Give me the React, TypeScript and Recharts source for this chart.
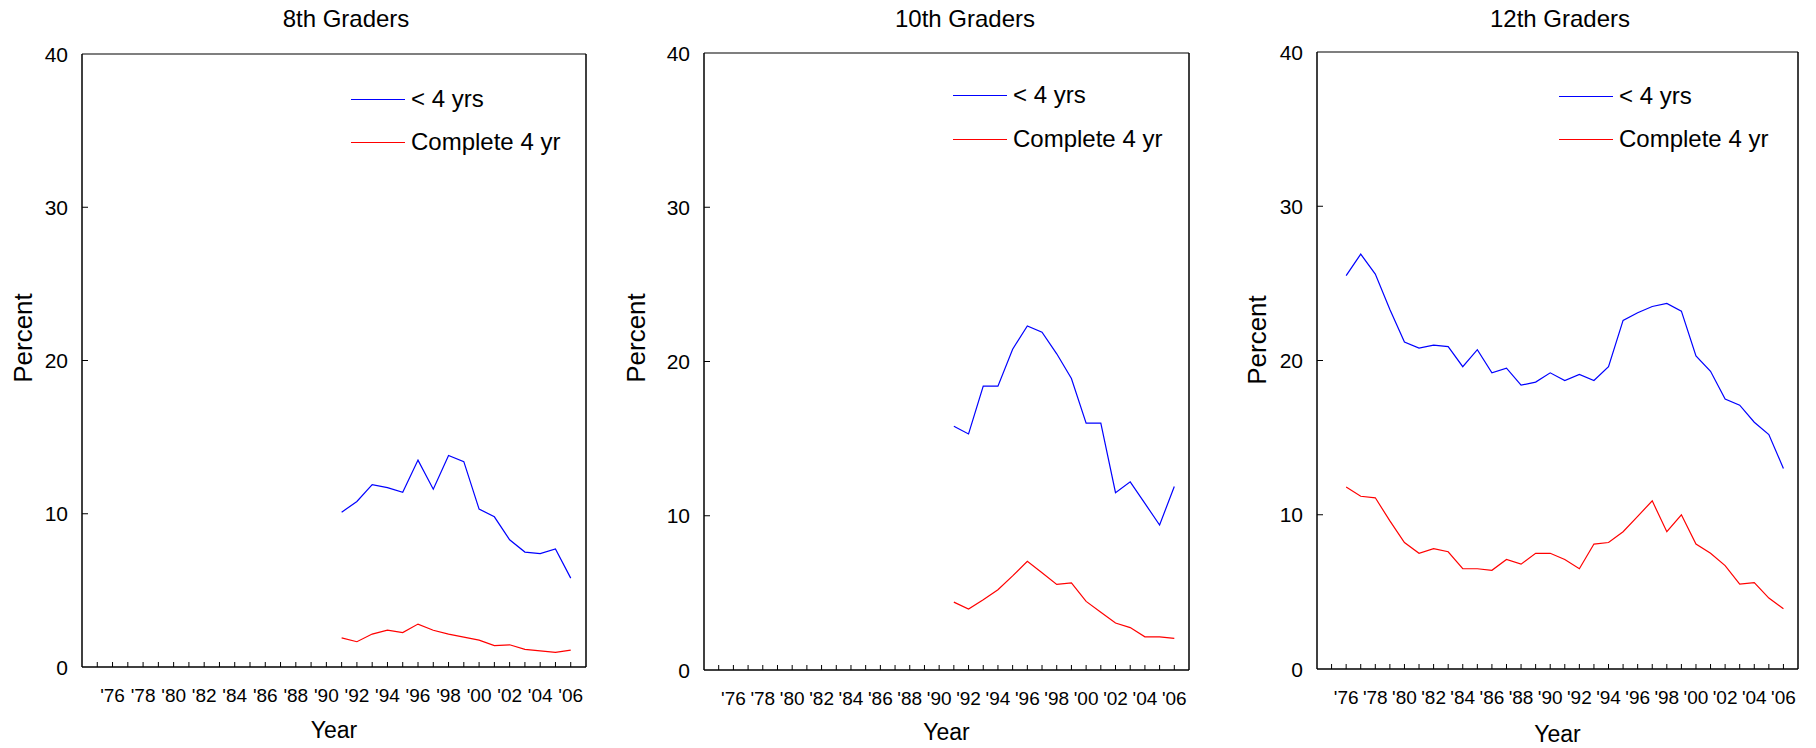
import React from "react"
import { LineChart, Line, XAxis, YAxis, ReferenceLine } from "recharts"

// survey years per grade
const years8 = [1991, 1992, 1993, 1994, 1995, 1996, 1997, 1998, 1999, 2000, 2001, 2002, 2003, 2004, 2005, 2006]
const years10 = [1991, 1992, 1993, 1994, 1995, 1996, 1997, 1998, 1999, 2000, 2001, 2002, 2003, 2004, 2005, 2006]
const years12 = [1976, 1977, 1978, 1979, 1980, 1981, 1982, 1983, 1984, 1985, 1986, 1987, 1988, 1989, 1990,
    1991, 1992, 1993, 1994, 1995, 1996, 1997, 1998, 1999, 2000, 2001, 2002, 2003, 2004, 2005, 2006]

// "< 4 yrs"
const under8 = [10.1, 10.8, 11.9, 11.7, 11.4, 13.5, 11.6, 13.8, 13.4, 10.3, 9.8, 8.3, 7.5, 7.4, 7.7, 5.8]
const under10 = [15.8, 15.3, 18.4, 18.4, 20.8, 22.3, 21.9, 20.5, 18.9, 16.0, 16.0, 11.5, 12.2, 10.8, 9.4, 11.9]
const under12 = [25.5, 26.9, 25.6, 23.3, 21.2, 20.8, 21.0, 20.9, 19.6, 20.7, 19.2, 19.5, 18.4, 18.6, 19.2,
    18.7, 19.1, 18.7, 19.6, 22.6, 23.1, 23.5, 23.7, 23.2, 20.3, 19.3, 17.5, 17.1, 16.0, 15.2, 13.0]

// "Complete 4 yr"
const full8 = [1.9, 1.65, 2.15, 2.4, 2.25, 2.8, 2.4, 2.15, 1.95, 1.75, 1.4, 1.45, 1.15, 1.05, 0.95, 1.1]
const full10 = [4.4, 3.95, 4.55, 5.2, 6.1, 7.05, 6.3, 5.55, 5.65, 4.45, 3.75, 3.05, 2.75, 2.15, 2.15, 2.05]
const full12 = [11.8, 11.2, 11.1, 9.6, 8.2, 7.5, 7.8, 7.6, 6.5, 6.5, 6.4, 7.1, 6.8, 7.5, 7.5,
    7.1, 6.5, 8.1, 8.2, 8.9, 9.9, 10.9, 8.9, 10.0, 8.1, 7.5, 6.7, 5.5, 5.6, 4.6, 3.9]

const xTicks = [1975, 1976, 1977, 1978, 1979, 1980, 1981, 1982, 1983, 1984, 1985, 1986, 1987, 1988, 1989, 1990,
    1991, 1992, 1993, 1994, 1995, 1996, 1997, 1998, 1999, 2000, 2001, 2002, 2003, 2004, 2005, 2006]
const yTicks = [0, 10, 20, 30, 40]
const seriesNames = ["< 4 yrs", "Complete 4 yr"]
const titles = ["8th Graders", "10th Graders", "12th Graders"]

const FONT = "'Liberation Sans', Arial, sans-serif"
const BLUE = "#0000ff"
const RED = "#ff0000"

const rows = (yrs: number[], a: number[], b: number[]) => yrs.map((year, i) => ({ year, under: a[i], full: b[i] }))

const yearLabel = (y: number) => (y % 2 === 0 ? "'" + String(y % 100).padStart(2, "0") : "")

const XTick = (p: any) => {
    const { x, y, payload } = p
    const lab = yearLabel(payload.value)
    return (
        <g>
            <line x1={x} x2={x} y1={y} y2={y - 5} stroke="#000" strokeWidth={1} />
            {lab && <text x={x} y={y + 28} textAnchor="middle" dominantBaseline="central"
                fontFamily={FONT} fontSize={19} fill="#000">{lab}</text>}
        </g>
    )
}

const YTick = (p: any) => {
    const { x, y, payload } = p
    return (
        <g>
            {payload.value > 0 && payload.value < 40 &&
                <line x1={x} x2={x + 6} y1={y} y2={y} stroke="#000" strokeWidth={1} />}
            <text x={x - 14} y={y} textAnchor="end" dominantBaseline="central"
                fontFamily={FONT} fontSize={21} fill="#000">{payload.value}</text>
        </g>
    )
}

type Box = { l: number; r: number; t: number; b: number }
type PanelProps = {
    title: string; data: any[]; box: Box; titleX: number
    leg: { x: number; y1: number; y2: number }
    pct: { x: number; y: number }; yearY: number
}

const YW = 80
const XH = 40

function Panel({ title, data, box, titleX, leg, pct, yearY }: PanelProps) {
    const chartLeft = box.l - YW
    const w = box.r - box.l + YW + 10
    const txt: React.CSSProperties = { position: "absolute", fontFamily: FONT, whiteSpace: "nowrap", lineHeight: 1, color: "#000" }
    return (
        <>
            <div style={{ ...txt, left: titleX, top: 19 - 12, fontSize: 24, transform: "translateX(-50%)" }}>{title}</div>
            <div style={{ ...txt, left: pct.x, top: pct.y, fontSize: 26, transform: "translate(-50%,-50%) rotate(-90deg)" }}>Percent</div>
            <div style={{ ...txt, left: (box.l + box.r) / 2, top: yearY - 11.5, fontSize: 23, transform: "translateX(-50%)" }}>Year</div>
            {[BLUE, RED].map((c, i) => (
                <div key={c}>
                    <div style={{ position: "absolute", left: leg.x, top: (i ? leg.y2 : leg.y1) - 0.5, width: 54, height: 0, borderTop: `1.2px solid ${c}` }} />
                    <div style={{ ...txt, left: leg.x + 60, top: (i ? leg.y2 : leg.y1) - 12, fontSize: 24 }}>{seriesNames[i]}</div>
                </div>
            ))}
            <div style={{ position: "absolute", left: chartLeft, top: 0 }}>
                <LineChart width={w} height={748} data={data}
                    margin={{ top: box.t, left: 0, right: 10, bottom: 748 - box.b - XH }}>
                    <XAxis dataKey="year" type="number" domain={[1974, 2007]} ticks={xTicks} interval={0}
                        height={XH} tickSize={0} tickMargin={0} tickLine={false} tick={<XTick />}
                        axisLine={{ stroke: "#000", strokeWidth: 1.5 }} />
                    <YAxis type="number" domain={[0, 40]} ticks={yTicks} width={YW}
                        tickSize={0} tickMargin={0} tickLine={false} tick={<YTick />}
                        axisLine={{ stroke: "#000", strokeWidth: 1.5 }} />
                    <ReferenceLine y={40} stroke="#000" strokeWidth={1.2} />
                    <ReferenceLine x={2007} stroke="#000" strokeWidth={1.5} />
                    <Line dataKey="under" stroke={BLUE} strokeWidth={1.2} dot={false} isAnimationActive={false} />
                    <Line dataKey="full" stroke={RED} strokeWidth={1.2} dot={false} isAnimationActive={false} />
                </LineChart>
            </div>
        </>
    )
}

export default function App() {
    return (
        <div style={{ position: "absolute", left: 0, top: 0, width: 1816, height: 748, background: "#fff" }}>
            <Panel title={titles[0]} data={rows(years8, under8, full8)} box={{ l: 82, r: 586, t: 54, b: 667 }}
                titleX={346} leg={{ x: 351, y1: 99, y2: 142 }} pct={{ x: 23, y: 338 }} yearY={730} />
            <Panel title={titles[1]} data={rows(years10, under10, full10)} box={{ l: 704, r: 1189, t: 53, b: 670 }}
                titleX={965} leg={{ x: 953, y1: 95, y2: 139 }} pct={{ x: 636, y: 338 }} yearY={732} />
            <Panel title={titles[2]} data={rows(years12, under12, full12)} box={{ l: 1317, r: 1798, t: 52, b: 669 }}
                titleX={1560} leg={{ x: 1559, y1: 96, y2: 139 }} pct={{ x: 1257, y: 340 }} yearY={734} />
        </div>
    )
}
